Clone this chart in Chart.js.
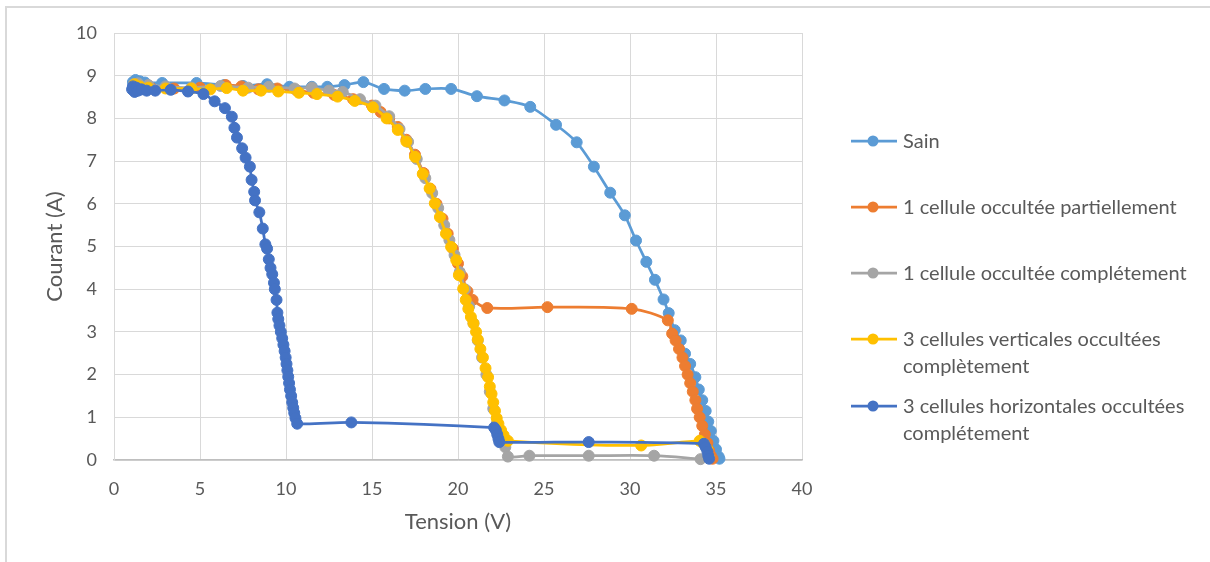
<!DOCTYPE html>
<html><head><meta charset="utf-8">
<script src="https://cdn.jsdelivr.net/npm/chart.js@4.4.1/dist/chart.umd.min.js"></script>
<style>
html,body{margin:0;padding:0;background:#fff;}
#wrap{position:relative;width:1210px;height:562px;overflow:hidden;font-family:Lato,'Open Sans',sans-serif;background:#fff;}
#frame{position:absolute;left:5px;top:6px;width:1300px;height:700px;border-left:2px solid #D9D9D9;border-top:2px solid #D9D9D9;}
#c{position:absolute;left:0;top:0;}
.item{position:absolute;left:851px;}
.item svg{position:absolute;left:0;top:-6px;}
.item .txt{position:absolute;left:52px;top:-14px;width:320px;font-size:20px;line-height:26.5px;color:#595959;white-space:nowrap;}
</style></head>
<body><div id="wrap"><div id="frame"></div><canvas id="c" width="1210" height="562"></canvas><div id="legend"></div></div>
<script>
const seriesNames = ['Sain','1 cellule occultée partiellement','1 cellule occultée complétement','3 cellules verticales occultées|complètement','3 cellules horizontales occultées|complétement'];
const seriesColors = ['#5B9BD5','#ED7D31','#A5A5A5','#FFC000','#4472C4'];
const xTicks = [0,5,10,15,20,25,30,35,40];
const yTicks = [0,1,2,3,4,5,6,7,8,9,10];
const axisTitles = ['Tension (V)','Courant (A)'];

const sain = [[1.1,8.85],[1.25,8.9],[1.5,8.87],[1.8,8.84],[2.8,8.83],[4.8,8.83],[6.4,8.78],[7.5,8.76],[8.9,8.8],[10.2,8.74],[11.5,8.74],[12.4,8.74],[13.4,8.78],[14.5,8.85],[15.7,8.69],[16.9,8.65],[18.1,8.69],[19.6,8.69],[21.1,8.52],[22.7,8.42],[24.2,8.27],[25.7,7.85],[26.9,7.44],[27.9,6.87],[28.85,6.26],[29.7,5.73],[30.35,5.14],[30.95,4.64],[31.45,4.22],[31.95,3.76],[32.25,3.44],[32.6,3.04],[32.95,2.8],[33.2,2.49],[33.5,2.25],[33.8,1.94],[34.0,1.65],[34.2,1.4],[34.4,1.15],[34.55,0.9],[34.7,0.68],[34.85,0.45],[35.0,0.25],[35.15,0.08],[35.2,0.03]];
const partielle = [[1.2,8.75],[1.6,8.72],[2.2,8.7],[3.5,8.7],[5.0,8.72],[6.5,8.78],[7.4,8.75],[8.4,8.68],[9.5,8.7],[10.6,8.66],[11.6,8.6],[12.8,8.55],[13.9,8.45],[15.0,8.3],[15.5,8.15],[16.0,8.0],[16.5,7.8],[17.0,7.5],[17.5,7.15],[18.0,6.72],[18.4,6.35],[18.75,6.0],[19.1,5.65],[19.4,5.3],[19.7,4.95],[20.0,4.6],[20.25,4.3],[20.55,3.95],[20.85,3.75],[21.7,3.56],[25.2,3.58],[30.1,3.54],[32.2,3.27],[32.45,2.96],[32.65,2.8],[32.85,2.6],[33.05,2.4],[33.2,2.2],[33.35,2.0],[33.5,1.8],[33.65,1.6],[33.8,1.4],[33.9,1.2],[34.05,1.0],[34.2,0.8],[34.35,0.6],[34.5,0.4],[34.6,0.22],[34.7,0.1],[34.8,0.03]];
const complete1 = [[1.15,8.8],[1.4,8.82],[2.0,8.78],[3.0,8.75],[4.5,8.72],[6.2,8.76],[7.8,8.72],[9.0,8.74],[10.5,8.7],[11.5,8.72],[12.5,8.65],[13.3,8.62],[14.3,8.45],[15.2,8.3],[16.0,8.05],[16.6,7.75],[17.1,7.45],[17.6,7.05],[18.1,6.6],[18.5,6.25],[18.85,5.9],[19.2,5.5],[19.5,5.15],[19.8,4.8],[20.1,4.4],[20.4,4.0],[20.65,3.6],[20.9,3.2],[21.15,2.8],[21.4,2.4],[21.65,2.0],[21.85,1.6],[22.05,1.2],[22.25,0.85],[22.5,0.55],[22.75,0.3],[22.9,0.08],[24.15,0.1],[27.6,0.1],[31.4,0.1],[34.1,0.02]];
const verticales3 = [[1.2,8.8],[1.5,8.75],[2.0,8.72],[3.0,8.7],[4.5,8.7],[5.6,8.68],[6.55,8.71],[7.5,8.65],[8.55,8.65],[9.55,8.63],[10.75,8.6],[11.8,8.57],[13.0,8.51],[14.0,8.41],[15.05,8.26],[15.85,8.0],[16.5,7.73],[17.0,7.46],[17.5,7.1],[17.95,6.7],[18.35,6.36],[18.65,6.01],[18.95,5.69],[19.3,5.3],[19.6,4.99],[19.9,4.68],[20.05,4.33],[20.3,4.01],[20.45,3.75],[20.6,3.54],[20.75,3.35],[20.9,3.2],[21.05,3.0],[21.15,2.82],[21.3,2.6],[21.45,2.4],[21.6,2.15],[21.75,1.94],[21.85,1.72],[21.95,1.55],[22.05,1.35],[22.15,1.15],[22.25,0.98],[22.35,0.85],[22.5,0.7],[22.65,0.58],[22.9,0.45],[30.65,0.34],[34.05,0.45],[34.3,0.38],[34.5,0.25],[34.6,0.05]];
const horizontales3 = [[1.05,8.68],[1.1,8.75],[1.2,8.62],[1.3,8.72],[1.4,8.65],[1.6,8.68],[1.9,8.65],[2.4,8.65],[3.3,8.67],[4.3,8.63],[5.2,8.57],[5.85,8.4],[6.45,8.24],[6.85,8.04],[7.0,7.78],[7.15,7.55],[7.45,7.3],[7.65,7.08],[7.9,6.87],[8.0,6.56],[8.15,6.28],[8.2,6.08],[8.45,5.8],[8.65,5.42],[8.8,5.05],[8.9,4.95],[9.0,4.7],[9.1,4.5],[9.2,4.35],[9.3,4.15],[9.35,4.0],[9.45,3.75],[9.5,3.45],[9.55,3.3],[9.62,3.15],[9.7,3.0],[9.78,2.85],[9.85,2.7],[9.92,2.55],[9.98,2.4],[10.03,2.25],[10.08,2.1],[10.13,1.95],[10.18,1.8],[10.23,1.65],[10.3,1.5],[10.36,1.35],[10.42,1.22],[10.48,1.1],[10.55,0.98],[10.65,0.85],[13.8,0.88],[22.1,0.76],[22.2,0.7],[22.28,0.6],[22.35,0.5],[22.4,0.42],[27.6,0.42],[34.3,0.38],[34.4,0.3],[34.5,0.2],[34.55,0.1],[34.6,0.03]];

const seriesData = [sain, partielle, complete1, verticales3, horizontales3];

const datasets = seriesData.map((d, i) => ({
  label: seriesNames[i].replace('|',' '),
  data: d.map(p => ({x: p[0], y: p[1]})),
  showLine: true,
  borderColor: seriesColors[i],
  backgroundColor: seriesColors[i],
  pointBackgroundColor: seriesColors[i],
  pointBorderColor: seriesColors[i],
  borderWidth: 2.75,
  pointRadius: 5.5,
  pointBorderWidth: 1,
  tension: 0.3,
  clip: false,
  order: seriesData.length - 1 - i
}));

const tickFont = {family: "Lato, 'Open Sans', sans-serif", size: 18};
const titleFont = {family: "Lato, 'Open Sans', sans-serif", size: 22};

new Chart(document.getElementById('c'), {
  type: 'scatter',
  data: {datasets},
  options: {
    responsive: false,
    animation: false,
    layout: {padding: {top: 33, right: 408, left: 0, bottom: 0}},
    plugins: {legend: {display: false}, tooltip: {enabled: false}},
    scales: {
      x: {
        type: 'linear', min: 0, max: 40,
        afterBuildTicks: s => { s.ticks = xTicks.map(v => ({value: v})); },
        afterFit: s => { s.height = 102; },
        ticks: {font: tickFont, color: '#595959', padding: 18},
        grid: {color: '#D9D9D9', lineWidth: 1, drawTicks: false},
        border: {color: '#BFBFBF', width: 1.5},
        title: {display: true, text: axisTitles[0], font: titleFont, color: '#595959', padding: {top: 0, bottom: 27}}
      },
      y: {
        type: 'linear', min: 0, max: 10,
        afterBuildTicks: s => { s.ticks = yTicks.map(v => ({value: v})); },
        afterFit: s => { s.width = 114; },
        ticks: {font: tickFont, color: '#595959', padding: 17},
        grid: {color: '#D9D9D9', lineWidth: 1, drawTicks: false},
        border: {color: '#D9D9D9', width: 1},
        title: {display: true, text: axisTitles[1], font: titleFont, color: '#595959', padding: {top: 42, bottom: 0}}
      }
    }
  }
});

const legendY = [141, 207, 273, 339, 406];
const leg = document.getElementById('legend');
seriesNames.forEach((n, i) => {
  const it = document.createElement('div');
  it.className = 'item';
  it.style.top = legendY[i] + 'px';
  it.innerHTML = `<svg width="46" height="12"><line x1="0" y1="6" x2="46" y2="6" stroke="${seriesColors[i]}" stroke-width="2.75"/><circle cx="22" cy="6" r="5.5" fill="${seriesColors[i]}"/></svg><div class="txt">${n.split('|').join('<br>')}</div>`;
  leg.appendChild(it);
});
</script>
</body></html>
